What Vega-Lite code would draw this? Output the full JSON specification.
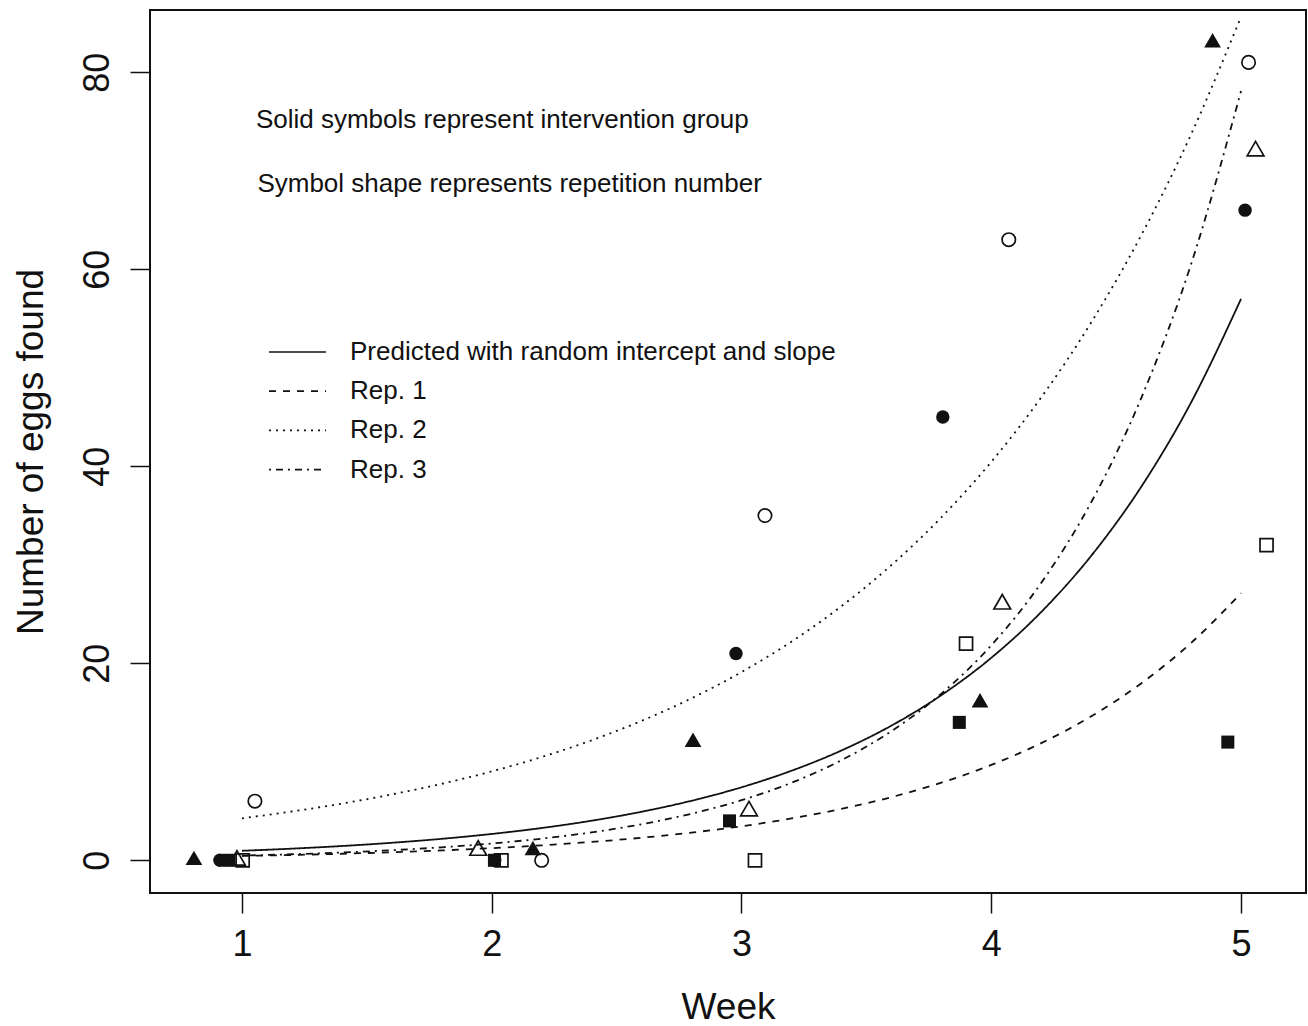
{
  "$schema": "https://vega.github.io/schema/vega-lite/v6.json",
  "width": 1156,
  "height": 883,
  "autosize": {"type": "none"},
  "padding": {"left": 150, "top": 10, "right": 2, "bottom": 133},
  "background": "white",
  "config": {
    "view": {"stroke": "#111111", "strokeWidth": 2},
    "font": "Liberation Sans",
    "axis": {
      "domain": false, "grid": false,
      "tickColor": "#111111", "tickWidth": 1.5, "tickSize": 20,
      "labelColor": "#111111", "titleColor": "#111111",
      "labelFont": "Liberation Sans", "titleFont": "Liberation Sans",
      "labelFontSize": 36, "titleFontSize": 37, "titleFontWeight": "normal",
      "labelFlush": false, "labelOverlap": false
    }
  },
  "datasets": {
    "points": [
      {"week": 0.808, "eggs": 0, "rep": "Rep. 3", "group": "Intervention"},
      {"week": 0.912, "eggs": 0, "rep": "Rep. 2", "group": "Intervention"},
      {"week": 0.948, "eggs": 0, "rep": "Rep. 1", "group": "Intervention"},
      {"week": 0.98, "eggs": 0, "rep": "Rep. 3", "group": "Control"},
      {"week": 1.003, "eggs": 0, "rep": "Rep. 1", "group": "Control"},
      {"week": 1.052, "eggs": 6, "rep": "Rep. 2", "group": "Control"},
      {"week": 1.946, "eggs": 1, "rep": "Rep. 3", "group": "Control"},
      {"week": 2.012, "eggs": 0, "rep": "Rep. 2", "group": "Intervention"},
      {"week": 2.011, "eggs": 0, "rep": "Rep. 1", "group": "Intervention"},
      {"week": 2.039, "eggs": 0, "rep": "Rep. 1", "group": "Control"},
      {"week": 2.165, "eggs": 1, "rep": "Rep. 3", "group": "Intervention"},
      {"week": 2.2, "eggs": 0, "rep": "Rep. 2", "group": "Control"},
      {"week": 2.806, "eggs": 12, "rep": "Rep. 3", "group": "Intervention"},
      {"week": 2.952, "eggs": 4, "rep": "Rep. 1", "group": "Intervention"},
      {"week": 2.978, "eggs": 21, "rep": "Rep. 2", "group": "Intervention"},
      {"week": 3.03, "eggs": 5, "rep": "Rep. 3", "group": "Control"},
      {"week": 3.054, "eggs": 0, "rep": "Rep. 1", "group": "Control"},
      {"week": 3.094, "eggs": 35, "rep": "Rep. 2", "group": "Control"},
      {"week": 3.806, "eggs": 45, "rep": "Rep. 2", "group": "Intervention"},
      {"week": 3.872, "eggs": 14, "rep": "Rep. 1", "group": "Intervention"},
      {"week": 3.899, "eggs": 22, "rep": "Rep. 1", "group": "Control"},
      {"week": 3.955, "eggs": 16, "rep": "Rep. 3", "group": "Intervention"},
      {"week": 4.044, "eggs": 26, "rep": "Rep. 3", "group": "Control"},
      {"week": 4.07, "eggs": 63, "rep": "Rep. 2", "group": "Control"},
      {"week": 4.886, "eggs": 83, "rep": "Rep. 3", "group": "Intervention"},
      {"week": 4.947, "eggs": 12, "rep": "Rep. 1", "group": "Intervention"},
      {"week": 5.016, "eggs": 66, "rep": "Rep. 2", "group": "Intervention"},
      {"week": 5.03, "eggs": 81, "rep": "Rep. 2", "group": "Control"},
      {"week": 5.058, "eggs": 72, "rep": "Rep. 3", "group": "Control"},
      {"week": 5.102, "eggs": 32, "rep": "Rep. 1", "group": "Control"}
    ],
    "curves": [
      {"curve": "Predicted with random intercept and slope", "week": 1.0, "eggs": 0.964},
      {"curve": "Predicted with random intercept and slope", "week": 1.2, "eggs": 1.182},
      {"curve": "Predicted with random intercept and slope", "week": 1.4, "eggs": 1.449},
      {"curve": "Predicted with random intercept and slope", "week": 1.6, "eggs": 1.777},
      {"curve": "Predicted with random intercept and slope", "week": 1.8, "eggs": 2.179},
      {"curve": "Predicted with random intercept and slope", "week": 2.0, "eggs": 2.673},
      {"curve": "Predicted with random intercept and slope", "week": 2.2, "eggs": 3.277},
      {"curve": "Predicted with random intercept and slope", "week": 2.4, "eggs": 4.019},
      {"curve": "Predicted with random intercept and slope", "week": 2.6, "eggs": 4.929},
      {"curve": "Predicted with random intercept and slope", "week": 2.8, "eggs": 6.044},
      {"curve": "Predicted with random intercept and slope", "week": 3.0, "eggs": 7.411},
      {"curve": "Predicted with random intercept and slope", "week": 3.2, "eggs": 9.089},
      {"curve": "Predicted with random intercept and slope", "week": 3.4, "eggs": 11.146},
      {"curve": "Predicted with random intercept and slope", "week": 3.6, "eggs": 13.668},
      {"curve": "Predicted with random intercept and slope", "week": 3.8, "eggs": 16.761},
      {"curve": "Predicted with random intercept and slope", "week": 4.0, "eggs": 20.554},
      {"curve": "Predicted with random intercept and slope", "week": 4.2, "eggs": 25.205},
      {"curve": "Predicted with random intercept and slope", "week": 4.4, "eggs": 30.909},
      {"curve": "Predicted with random intercept and slope", "week": 4.6, "eggs": 37.903},
      {"curve": "Predicted with random intercept and slope", "week": 4.8, "eggs": 46.481},
      {"curve": "Predicted with random intercept and slope", "week": 5.0, "eggs": 56.998},
      {"curve": "Rep. 1", "week": 1.0, "eggs": 0.440},
      {"curve": "Rep. 1", "week": 1.2, "eggs": 0.541},
      {"curve": "Rep. 1", "week": 1.4, "eggs": 0.665},
      {"curve": "Rep. 1", "week": 1.6, "eggs": 0.817},
      {"curve": "Rep. 1", "week": 1.8, "eggs": 1.004},
      {"curve": "Rep. 1", "week": 2.0, "eggs": 1.234},
      {"curve": "Rep. 1", "week": 2.2, "eggs": 1.516},
      {"curve": "Rep. 1", "week": 2.4, "eggs": 1.863},
      {"curve": "Rep. 1", "week": 2.6, "eggs": 2.289},
      {"curve": "Rep. 1", "week": 2.8, "eggs": 2.812},
      {"curve": "Rep. 1", "week": 3.0, "eggs": 3.455},
      {"curve": "Rep. 1", "week": 3.2, "eggs": 4.246},
      {"curve": "Rep. 1", "week": 3.4, "eggs": 5.217},
      {"curve": "Rep. 1", "week": 3.6, "eggs": 6.411},
      {"curve": "Rep. 1", "week": 3.8, "eggs": 7.877},
      {"curve": "Rep. 1", "week": 4.0, "eggs": 9.679},
      {"curve": "Rep. 1", "week": 4.2, "eggs": 11.893},
      {"curve": "Rep. 1", "week": 4.4, "eggs": 14.613},
      {"curve": "Rep. 1", "week": 4.6, "eggs": 17.956},
      {"curve": "Rep. 1", "week": 4.8, "eggs": 22.064},
      {"curve": "Rep. 1", "week": 5.0, "eggs": 27.111},
      {"curve": "Rep. 2", "week": 1.0, "eggs": 4.263},
      {"curve": "Rep. 2", "week": 1.2, "eggs": 4.953},
      {"curve": "Rep. 2", "week": 1.4, "eggs": 5.755},
      {"curve": "Rep. 2", "week": 1.6, "eggs": 6.686},
      {"curve": "Rep. 2", "week": 1.8, "eggs": 7.768},
      {"curve": "Rep. 2", "week": 2.0, "eggs": 9.025},
      {"curve": "Rep. 2", "week": 2.2, "eggs": 10.486},
      {"curve": "Rep. 2", "week": 2.4, "eggs": 12.183},
      {"curve": "Rep. 2", "week": 2.6, "eggs": 14.154},
      {"curve": "Rep. 2", "week": 2.8, "eggs": 16.445},
      {"curve": "Rep. 2", "week": 3.0, "eggs": 19.106},
      {"curve": "Rep. 2", "week": 3.2, "eggs": 22.198},
      {"curve": "Rep. 2", "week": 3.4, "eggs": 25.790},
      {"curve": "Rep. 2", "week": 3.6, "eggs": 29.964},
      {"curve": "Rep. 2", "week": 3.8, "eggs": 34.813},
      {"curve": "Rep. 2", "week": 4.0, "eggs": 40.447},
      {"curve": "Rep. 2", "week": 4.2, "eggs": 46.992},
      {"curve": "Rep. 2", "week": 4.4, "eggs": 54.598},
      {"curve": "Rep. 2", "week": 4.6, "eggs": 63.435},
      {"curve": "Rep. 2", "week": 4.8, "eggs": 73.701},
      {"curve": "Rep. 2", "week": 5.0, "eggs": 85.627},
      {"curve": "Rep. 3", "week": 1.0, "eggs": 0.476},
      {"curve": "Rep. 3", "week": 1.2, "eggs": 0.614},
      {"curve": "Rep. 3", "week": 1.4, "eggs": 0.793},
      {"curve": "Rep. 3", "week": 1.6, "eggs": 1.023},
      {"curve": "Rep. 3", "week": 1.8, "eggs": 1.321},
      {"curve": "Rep. 3", "week": 2.0, "eggs": 1.704},
      {"curve": "Rep. 3", "week": 2.2, "eggs": 2.199},
      {"curve": "Rep. 3", "week": 2.4, "eggs": 2.838},
      {"curve": "Rep. 3", "week": 2.6, "eggs": 3.662},
      {"curve": "Rep. 3", "week": 2.8, "eggs": 4.726},
      {"curve": "Rep. 3", "week": 3.0, "eggs": 6.098},
      {"curve": "Rep. 3", "week": 3.2, "eggs": 7.869},
      {"curve": "Rep. 3", "week": 3.4, "eggs": 10.155},
      {"curve": "Rep. 3", "week": 3.6, "eggs": 13.105},
      {"curve": "Rep. 3", "week": 3.8, "eggs": 16.911},
      {"curve": "Rep. 3", "week": 4.0, "eggs": 21.823},
      {"curve": "Rep. 3", "week": 4.2, "eggs": 28.162},
      {"curve": "Rep. 3", "week": 4.4, "eggs": 36.343},
      {"curve": "Rep. 3", "week": 4.6, "eggs": 46.899},
      {"curve": "Rep. 3", "week": 4.8, "eggs": 60.521},
      {"curve": "Rep. 3", "week": 5.0, "eggs": 78.100}
    ],
    "notes": [
      {"note": "Solid symbols represent intervention group"},
      {"note": "Symbol shape represents repetition number"}
    ]
  },
  "layer": [
    {
      "data": {"name": "curves"},
      "mark": {"type": "line", "color": "#111111", "strokeWidth": 1.8, "interpolate": "monotone", "clip": true, "strokeCap": "butt"},
      "encoding": {
        "x": {
          "field": "week", "type": "quantitative",
          "scale": {"domain": [0.632, 5.26], "nice": false, "zero": false},
          "axis": {
            "values": [1, 2, 3, 4, 5], "format": "d", "title": "Week",
            "labelBaseline": "alphabetic", "labelPadding": 42,
            "titleX": 578, "titleY": 125, "titleBaseline": "alphabetic", "titleAlign": "center"
          }
        },
        "y": {
          "field": "eggs", "type": "quantitative",
          "scale": {"domain": [-3.32, 86.32], "nice": false, "zero": false},
          "axis": {
            "values": [0, 20, 40, 60, 80], "format": "d", "title": "Number of eggs found",
            "labelAngle": -90, "labelAlign": "center", "labelBaseline": "alphabetic", "labelPadding": 22,
            "titleAngle": 270, "titleX": -108, "titleY": 441.5, "titleAlign": "center", "titleBaseline": "alphabetic"
          }
        },
        "strokeDash": {
          "field": "curve", "type": "nominal",
          "scale": {
            "domain": ["Predicted with random intercept and slope", "Rep. 1", "Rep. 2", "Rep. 3"],
            "range": [[1, 0], [7, 7], [2, 5], [2, 5, 7, 5]]
          },
          "legend": {
            "orient": "none", "legendX": 118, "legendY": 329, "title": null,
            "symbolType": "stroke", "symbolSize": 3249, "symbolStrokeWidth": 1.7, "symbolStrokeColor": "#111111",
            "labelFontSize": 26, "labelFont": "Liberation Sans", "labelColor": "#111111",
            "labelOffset": 23, "rowPadding": 13.2, "clipHeight": 26, "labelLimit": 0, "padding": 0
          }
        }
      }
    },
    {
      "data": {"name": "points"},
      "mark": {"type": "point", "filled": true, "color": "#111111", "stroke": "#111111", "opacity": 1},
      "encoding": {
        "x": {"field": "week", "type": "quantitative"},
        "y": {"field": "eggs", "type": "quantitative"},
        "shape": {
          "field": "rep", "type": "nominal",
          "scale": {"domain": ["Rep. 1", "Rep. 2", "Rep. 3"], "range": ["square", "circle", "M0,-1.155L1,0.577L-1,0.577Z"]},
          "legend": null
        },
        "size": {
          "field": "rep", "type": "nominal",
          "scale": {"type": "ordinal", "domain": ["Rep. 1", "Rep. 2", "Rep. 3"], "range": [170, 180, 280]},
          "legend": null
        },
        "fillOpacity": {
          "field": "group", "type": "nominal",
          "scale": {"type": "ordinal", "domain": ["Intervention", "Control"], "range": [1, 0]},
          "legend": null
        },
        "strokeWidth": {
          "field": "group", "type": "nominal",
          "scale": {"type": "ordinal", "domain": ["Intervention", "Control"], "range": [0, 1.7]},
          "legend": null
        }
      }
    },
    {
      "data": {"name": "notes"},
      "transform": [{"filter": "datum.note === 'Solid symbols represent intervention group'"}],
      "mark": {"type": "text", "align": "left", "baseline": "middle", "fontSize": 26, "font": "Liberation Sans", "color": "#111111"},
      "encoding": {
        "x": {"datum": 1.056},
        "y": {"datum": 75.2},
        "text": {"field": "note"}
      }
    },
    {
      "data": {"name": "notes"},
      "transform": [{"filter": "datum.note === 'Symbol shape represents repetition number'"}],
      "mark": {"type": "text", "align": "left", "baseline": "middle", "fontSize": 26, "font": "Liberation Sans", "color": "#111111"},
      "encoding": {
        "x": {"datum": 1.062},
        "y": {"datum": 68.7},
        "text": {"field": "note"}
      }
    }
  ]
}
